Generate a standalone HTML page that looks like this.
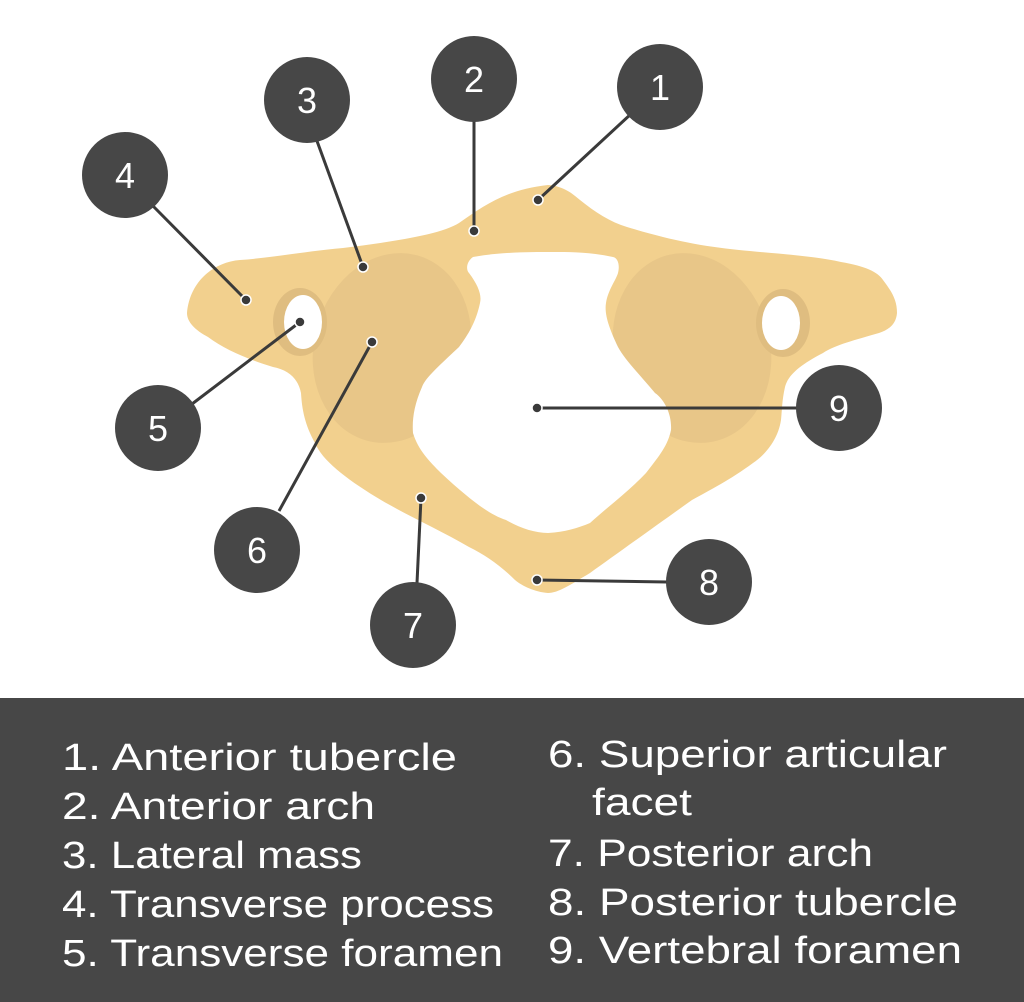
<!DOCTYPE html>
<html><head><meta charset="utf-8"><style>
html,body{margin:0;padding:0;background:#fff}
svg{display:block}
</style></head><body>
<svg width="1024" height="1002" viewBox="0 0 1024 1002" xmlns="http://www.w3.org/2000/svg">
<rect width="1024" height="1002" fill="#fff"/>
<path d="M187,313 C190,280 215,262 240,260 C270,258 300,252 343,248 C390,242 440,235 459,223 C485,205 505,190 548,185 C565,186 575,196 580,200 C595,212 610,222 627,227 C670,240 700,246 739,250 C780,254 815,256 841,262 C865,266 878,272 883,280 C892,292 897,300 897,313 C896,325 888,330 879,333 C855,340 835,345 823,353 C800,365 788,375 785,387 C782,400 782,410 781,420 C778,440 765,455 753,463 C730,480 710,490 692,500 C650,530 615,555 590,573 C570,585 558,593 548,593 C535,592 522,586 515,580 C500,565 485,555 469,547 C440,530 400,512 376,497 C345,478 322,460 315,443 C305,425 302,410 301,393 C298,378 288,370 273,367 C250,360 225,350 208,337 C195,330 187,322 187,313 Z" fill="#f2d08e"/>
<ellipse cx="392" cy="348" rx="78" ry="96" transform="rotate(15 392 348)" fill="#e8c688"/>
<ellipse cx="692" cy="348" rx="78" ry="96" transform="rotate(-15 692 348)" fill="#e8c688"/>
<ellipse cx="300" cy="322" rx="27" ry="34" fill="#dfbd80"/>
<ellipse cx="303" cy="322" rx="19" ry="27" fill="#fff"/>
<ellipse cx="783" cy="323" rx="27" ry="34" fill="#dfbd80"/>
<ellipse cx="781" cy="323" rx="19" ry="27" fill="#fff"/>
<path d="M473,257 C466,262 466,270 469,273 C478,285 482,295 480,303 C476,322 468,335 459,347 C440,365 425,378 422,387 C414,405 412,420 413,433 C418,450 430,462 441,473 C470,500 490,515 506,520 C520,528 535,533 548,533 C565,532 578,528 590,523 C610,505 630,490 646,473 C660,455 668,445 671,430 C672,415 665,400 655,393 C640,375 625,360 618,347 C610,330 604,315 606,303 C608,290 616,280 618,273 C620,265 618,258 613,257 C590,252 570,252 553,252 C530,252 500,252 473,257 Z" fill="#fff"/>
<g stroke="#3a3a3a" stroke-width="3" fill="none">
<line x1="538" y1="200" x2="632" y2="113"/>
<line x1="474" y1="231" x2="474" y2="121"/>
<line x1="363" y1="267" x2="317" y2="141"/>
<line x1="246" y1="300" x2="153" y2="206"/>
<line x1="300" y1="322" x2="192" y2="404"/>
<line x1="372" y1="342" x2="279" y2="511"/>
<line x1="421" y1="498" x2="417" y2="583"/>
<line x1="537" y1="580" x2="667" y2="582"/>
<line x1="537" y1="408" x2="797" y2="408"/>
</g>
<g fill="#3a3a3a" stroke="#fff" stroke-width="1.5">
<circle cx="538" cy="200" r="5"/><circle cx="474" cy="231" r="5"/><circle cx="363" cy="267" r="5"/>
<circle cx="246" cy="300" r="5"/><circle cx="300" cy="322" r="5"/><circle cx="372" cy="342" r="5"/>
<circle cx="421" cy="498" r="5"/><circle cx="537" cy="580" r="5"/><circle cx="537" cy="408" r="5"/>
</g>
<g fill="#474747">
<circle cx="660" cy="87" r="43"/><circle cx="474" cy="79" r="43"/><circle cx="307" cy="100" r="43"/>
<circle cx="125" cy="175" r="43"/><circle cx="158" cy="428" r="43"/><circle cx="257" cy="550" r="43"/>
<circle cx="413" cy="625" r="43"/><circle cx="709" cy="582" r="43"/><circle cx="839" cy="408" r="43"/>
</g>
<g fill="#fff" font-family="Liberation Sans, sans-serif" font-size="36" text-anchor="middle">
<text x="660" y="100">1</text><text x="474" y="92">2</text><text x="307" y="113">3</text>
<text x="125" y="188">4</text><text x="158" y="441">5</text><text x="257" y="563">6</text>
<text x="413" y="638">7</text><text x="709" y="595">8</text><text x="839" y="421">9</text>
</g>
<rect x="0" y="698" width="1024" height="304" fill="#474747"/>
<g fill="#fff" font-family="Liberation Sans, sans-serif" font-size="38">
<text x="62" y="770" textLength="395" lengthAdjust="spacingAndGlyphs">1.  Anterior tubercle</text>
<text x="62" y="819" textLength="313" lengthAdjust="spacingAndGlyphs">2. Anterior arch</text>
<text x="62" y="868" textLength="300" lengthAdjust="spacingAndGlyphs">3. Lateral mass</text>
<text x="62" y="917" textLength="432" lengthAdjust="spacingAndGlyphs">4. Transverse process</text>
<text x="62" y="966" textLength="441" lengthAdjust="spacingAndGlyphs">5. Transverse foramen</text>
<text x="548" y="767" textLength="399" lengthAdjust="spacingAndGlyphs">6. Superior articular</text>
<text x="592" y="815" textLength="100" lengthAdjust="spacingAndGlyphs">facet</text>
<text x="548" y="866" textLength="325" lengthAdjust="spacingAndGlyphs">7. Posterior arch</text>
<text x="548" y="915" textLength="410" lengthAdjust="spacingAndGlyphs">8. Posterior tubercle</text>
<text x="548" y="963" textLength="414" lengthAdjust="spacingAndGlyphs">9. Vertebral foramen</text>
</g>
</svg>
</body></html>
